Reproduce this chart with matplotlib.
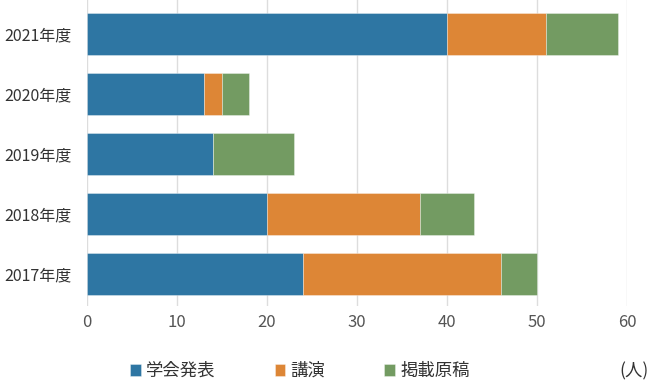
import numpy as np
import matplotlib
matplotlib.use("Agg")
import matplotlib.pyplot as plt

plt.rcParams["font.family"] = ["Noto Sans CJK JP", "DejaVu Sans"]

years = ["2017年度", "2018年度", "2019年度", "2020年度", "2021年度"]
gakkai = [24, 20, 14, 13, 40]
kouen = [22, 17, 0, 2, 11]
keisai = [4, 6, 9, 3, 8]
series_names = ["学会発表", "講演", "掲載原稿"]
colors = ["#2e76a3", "#dd8636", "#739b62"]

fig = plt.figure(figsize=(6.48, 3.80), dpi=100)
ax = fig.add_axes([87 / 648, 74 / 380, 540 / 648, 306 / 380])

y = np.arange(len(years))
left = np.zeros(len(years))
for vals, name, c in zip([gakkai, kouen, keisai], series_names, colors):
    ax.barh(y, vals, left=left, height=0.7, color=c, label=name,
            edgecolor=(1, 1, 1, 0.4), linewidth=0.6, zorder=2)
    left += np.array(vals)

ax.set_xlim(0, 60)
ax.set_ylim(-0.533, 4.567)
ax.set_xticks(range(0, 61, 10))
ax.set_yticks(y)
ax.set_yticklabels(years, fontsize=11.5, color="#333333")
ax.tick_params(axis="x", labelsize=12, colors="#555555", length=0, pad=6)
ax.tick_params(axis="y", length=0, pad=11)
ax.grid(axis="x", color="#dddddd", linewidth=1, zorder=0)
for s in ax.spines.values():
    s.set_visible(False)

handles, labels = ax.get_legend_handles_labels()
fig.legend(handles, labels, loc="center left", bbox_to_anchor=(130 / 648, 1 - 371 / 380),
           ncol=3, frameon=False, fontsize=12.5, handlelength=0.63, handleheight=0.63,
           handletextpad=0.29, columnspacing=3.4, borderpad=0, borderaxespad=0,
           labelcolor="#333333")
fig.text(634 / 648, 1 - 371 / 380, "(人)", ha="center", va="center",
         fontsize=12.5, color="#333333")

fig.savefig("out.png", dpi=100)
